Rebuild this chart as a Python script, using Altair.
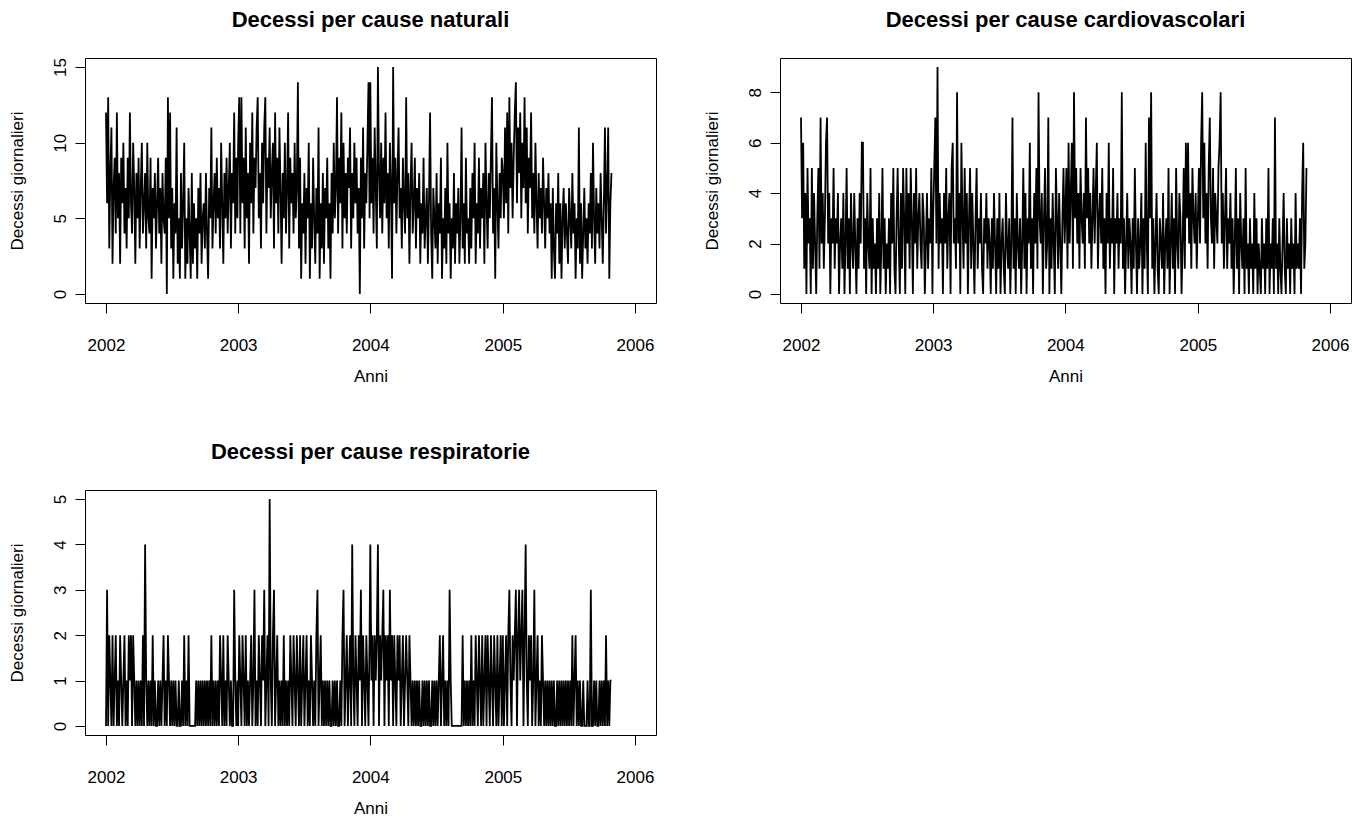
import altair as alt
import pandas as pd

FONT = "Liberation Sans"

nat_2002 = [12, 6, 13, 3, 8, 11, 2, 7, 9, 4, 12, 5, 8, 2, 9, 6, 10, 4, 7, 3,
            9, 5, 12, 6, 4, 10, 7, 2, 8, 5, 9, 3, 7, 10, 4, 6, 8, 3, 10, 5,
            4, 9, 1, 7, 5, 8, 3, 6, 9, 4, 7, 2, 8, 5, 4, 9, 0, 13, 5, 12,
            3, 7, 1, 6, 4, 11, 2, 5, 1, 8, 3, 6, 10, 1, 5, 2, 7, 4, 1, 8,
            2, 6, 3, 5, 1, 7, 4, 8, 2, 5, 6, 3, 8, 4, 1, 7, 5, 11, 3, 6,
            8, 4, 9, 5, 7, 3, 10, 6, 2, 8, 5, 9, 4, 7, 10, 3, 8, 6, 12, 4, 9, 5]
nat_2003 = [10, 13, 4, 13, 6, 9, 3, 11, 5, 8, 2, 10, 6, 12, 4, 9, 7, 11, 13, 5,
            8, 3, 10, 6, 11, 13, 4, 9, 7, 11, 5, 8, 10, 3, 12, 6, 9, 4, 11, 7,
            2, 8, 5, 10, 4, 7, 12, 3, 9, 6, 8, 4, 10, 5, 7, 14, 3, 9, 1, 6,
            4, 8, 2, 7, 5, 10, 1, 6, 3, 9, 5, 2, 7, 4, 11, 1, 6, 3, 8, 2,
            7, 5, 9, 3, 6, 1, 8, 4, 10, 5, 7, 13, 4, 9, 6, 12, 3, 10, 5, 8,
            4, 9, 7, 11, 3, 8, 5, 10, 6, 9, 4, 7, 0, 9, 5, 11, 3, 8, 6, 10, 14, 5]
nat_2004 = [14, 6, 9, 4, 11, 7, 3, 15, 8, 5, 10, 4, 9, 6, 12, 5, 8, 3, 10, 7,
            1, 15, 6, 9, 4, 8, 11, 5, 7, 3, 9, 6, 4, 13, 5, 8, 2, 7, 10, 4,
            6, 9, 3, 7, 5, 8, 2, 6, 4, 9, 3, 5, 7, 2, 6, 12, 4, 1, 7, 5,
            3, 8, 2, 6, 4, 9, 1, 5, 3, 7, 2, 10, 4, 6, 1, 5, 3, 8, 2, 6,
            4, 7, 2, 5, 11, 3, 6, 2, 9, 4, 5, 2, 7, 3, 8, 5, 10, 2, 6, 4,
            9, 3, 7, 5, 8, 2, 10, 6, 3, 8, 5, 9, 13, 4, 7, 1, 10, 6, 3, 8, 5, 9]
nat_2005 = [8, 5, 11, 6, 12, 4, 13, 7, 10, 5, 9, 12, 14, 6, 11, 8, 12, 5, 10, 7,
            13, 6, 11, 4, 9, 7, 12, 5, 8, 4, 10, 6, 3, 8, 5, 7, 4, 9, 6, 3,
            7, 5, 8, 4, 6, 1, 7, 3, 1, 6, 4, 8, 2, 6, 1, 5, 7, 3, 6, 4,
            2, 7, 5, 3, 8, 4, 6, 1, 5, 3, 11, 2, 6, 1, 4, 7, 3, 5, 2, 6,
            4, 8, 3, 10, 5, 2, 7, 4, 6, 3, 8, 5, 2, 6, 11, 4, 7, 11, 1, 6, 8]

card_2002 = [7, 3, 6, 1, 4, 0, 5, 2, 3, 0, 5, 1, 4, 2, 0, 3, 5, 1, 7, 2,
             4, 1, 3, 6, 7, 2, 4, 0, 3, 2, 5, 1, 3, 2, 4, 0, 2, 3, 1, 4,
             0, 2, 5, 1, 3, 0, 4, 2, 1, 4, 2, 0, 3, 1, 4, 2, 6, 6, 1, 3,
             0, 4, 2, 1, 5, 0, 3, 1, 2, 0, 3, 1, 4, 0, 2, 5, 1, 3, 0, 2,
             1, 3, 0, 4, 2, 5, 1, 0, 3, 5, 2, 0, 4, 1, 5, 3, 0, 5, 2, 4,
             1, 5, 3, 0, 4, 2, 5, 1, 3, 4, 2, 1, 4, 3, 0, 2, 4, 1, 3, 2, 5, 0]
card_2003 = [3, 5, 7, 2, 9, 1, 4, 2, 3, 0, 4, 2, 5, 1, 3, 4, 0, 5, 6, 2,
             3, 1, 8, 2, 4, 0, 6, 3, 1, 5, 2, 4, 0, 3, 5, 1, 4, 2, 0, 3,
             5, 1, 3, 2, 4, 1, 0, 3, 2, 4, 1, 3, 2, 0, 3, 1, 4, 2, 0, 3,
             1, 4, 0, 2, 3, 1, 0, 4, 2, 1, 3, 0, 2, 7, 1, 3, 0, 4, 2, 1,
             3, 0, 2, 5, 1, 4, 0, 3, 2, 6, 1, 3, 0, 4, 2, 5, 1, 8, 3, 2,
             4, 0, 3, 5, 1, 2, 7, 0, 3, 1, 4, 2, 0, 5, 3, 1, 4, 2, 0, 3, 5, 2]
card_2004 = [3, 5, 1, 6, 2, 4, 6, 1, 8, 3, 5, 2, 4, 1, 5, 3, 2, 4, 1, 7,
             3, 5, 2, 4, 1, 3, 5, 2, 4, 6, 1, 3, 4, 2, 5, 1, 3, 0, 4, 2,
             6, 1, 3, 2, 5, 0, 3, 2, 4, 1, 3, 2, 8, 1, 3, 0, 2, 4, 1, 3,
             2, 0, 3, 1, 5, 2, 0, 3, 1, 2, 4, 0, 3, 1, 6, 2, 0, 7, 3, 8,
             1, 3, 0, 2, 4, 1, 0, 3, 2, 1, 4, 0, 2, 3, 1, 5, 0, 2, 4, 1,
             3, 0, 5, 2, 1, 4, 3, 0, 2, 5, 1, 6, 3, 6, 2, 4, 1, 5, 3, 2, 4, 1]
card_2005 = [3, 5, 2, 6, 8, 3, 6, 2, 4, 1, 5, 7, 3, 2, 5, 1, 4, 3, 2, 5,
             6, 8, 2, 4, 1, 3, 5, 1, 3, 2, 4, 1, 3, 0, 2, 5, 1, 3, 0, 4,
             2, 1, 3, 0, 5, 1, 2, 0, 3, 1, 2, 0, 4, 1, 3, 0, 2, 1, 0, 3,
             1, 2, 0, 3, 1, 5, 0, 2, 1, 3, 0, 7, 1, 2, 0, 3, 1, 0, 2, 4,
             1, 0, 3, 1, 2, 0, 3, 1, 2, 0, 4, 1, 2, 1, 3, 0, 4, 6, 1, 2, 5]

resp_2002 = [0, 3, 0, 2, 1, 0, 2, 0, 1, 2, 0, 1, 0, 2, 1, 0, 1, 2, 0, 1,
             0, 2, 1, 2, 0, 2, 1, 0, 1, 0, 1, 0, 1, 0, 2, 0, 4, 1, 0, 1,
             0, 1, 0, 2, 0, 1, 0, 0, 1, 0, 1, 0, 1, 2, 0, 1, 0, 2, 1, 0,
             1, 0, 1, 0, 1, 0, 0, 1, 0, 0, 1, 0, 2, 0, 1, 0, 2, 0, 0, 0,
             0, 0, 0, 1, 0, 1, 0, 1, 0, 1, 0, 1, 0, 1, 0, 1, 0, 2, 0, 1,
             0, 1, 0, 1, 0, 2, 1, 0, 2, 0, 1, 0, 2, 1, 0, 1, 0, 0, 3, 1, 0, 1]
resp_2003 = [0, 2, 1, 0, 2, 1, 0, 2, 0, 1, 0, 1, 2, 0, 1, 3, 0, 1, 0, 2,
             1, 0, 2, 1, 3, 0, 1, 2, 0, 5, 1, 0, 2, 3, 0, 1, 2, 0, 1, 0,
             1, 0, 2, 0, 1, 0, 1, 0, 2, 1, 0, 2, 1, 0, 2, 1, 0, 2, 0, 1,
             2, 0, 1, 2, 0, 1, 0, 2, 1, 0, 1, 0, 2, 3, 0, 1, 2, 0, 1, 0,
             1, 0, 1, 0, 1, 0, 0, 1, 0, 1, 0, 1, 0, 0, 1, 0, 2, 3, 0, 1,
             2, 0, 1, 2, 0, 4, 1, 0, 2, 1, 0, 2, 1, 3, 0, 2, 1, 0, 2, 1, 0, 2]
resp_2004 = [4, 1, 2, 0, 2, 1, 2, 4, 0, 2, 1, 2, 3, 0, 2, 1, 2, 0, 3, 1,
             2, 0, 2, 1, 0, 2, 1, 2, 0, 1, 2, 0, 1, 2, 1, 0, 2, 1, 0, 1,
             0, 1, 0, 1, 0, 1, 0, 0, 1, 0, 1, 0, 1, 0, 1, 0, 0, 1, 0, 1,
             0, 1, 0, 1, 2, 0, 1, 2, 0, 1, 0, 1, 0, 3, 1, 0, 0, 0, 0, 0,
             0, 0, 0, 0, 0, 2, 0, 1, 0, 1, 0, 1, 0, 2, 0, 1, 0, 2, 1, 0,
             2, 1, 0, 2, 0, 1, 2, 0, 2, 1, 0, 2, 1, 0, 2, 1, 0, 2, 0, 1, 2, 0]
resp_2005 = [2, 0, 1, 2, 0, 2, 3, 1, 0, 2, 1, 2, 3, 0, 2, 3, 1, 2, 3, 0,
             2, 4, 1, 0, 2, 1, 2, 0, 1, 3, 0, 1, 2, 0, 1, 0, 2, 1, 0, 1,
             0, 1, 0, 1, 0, 1, 0, 1, 0, 0, 1, 0, 1, 0, 1, 0, 1, 0, 1, 0,
             1, 0, 1, 0, 2, 0, 1, 2, 0, 1, 0, 1, 0, 0, 1, 0, 0, 0, 1, 0,
             0, 3, 0, 0, 1, 0, 1, 0, 0, 1, 0, 1, 0, 1, 0, 2, 0, 1, 0, 1, 1]

titles = ["Decessi per cause naturali", "Decessi per cause cardiovascolari",
          "Decessi per cause respiratorie"]
x_title = "Anni"
y_title = "Decessi giornalieri"
year_ticks = [2002, 2003, 2004, 2005, 2006]


def build_frame(per_year):
    parts = []
    for year, vals in per_year:
        dates = pd.date_range(f"{year}-01-01", periods=len(vals), freq="3D")
        parts.append(pd.DataFrame({"data": dates, "decessi": vals}))
    return pd.concat(parts, ignore_index=True)


df_nat = build_frame([(2002, nat_2002), (2003, nat_2003), (2004, nat_2004), (2005, nat_2005)])
df_card = build_frame([(2002, card_2002), (2003, card_2003), (2004, card_2004), (2005, card_2005)])
df_resp = build_frame([(2002, resp_2002), (2003, resp_2003), (2004, resp_2004), (2005, resp_2005)])

W, H = 571, 245


def panel(df, title, ydomain, yticks):
    x_axis = alt.Axis(
        values=[alt.DateTime(year=y, month=1, date=1) for y in year_ticks],
        format="%Y", title=x_title, domain=False, grid=False,
        tickSize=10, tickColor="black", tickWidth=1,
        labelFont=FONT, labelFontSize=17, labelColor="black",
        labelPadding=24, labelFlush=False, labelOverlap=False,
        titleFont=FONT, titleFontSize=17, titleFontWeight="normal",
        titleColor="black", titleY=78, titleBaseline="alphabetic",
    )
    y_axis = alt.Axis(
        values=yticks, title=y_title, domain=False, grid=False,
        tickSize=10, tickColor="black", tickWidth=1,
        labelFont=FONT, labelFontSize=17, labelColor="black",
        labelAngle=270, labelAlign="center", labelBaseline="alphabetic",
        labelPadding=10, labelFlush=False, labelOverlap=False,
        titleFont=FONT, titleFontSize=17, titleFontWeight="normal",
        titleColor="black", titleAngle=270, titleAlign="center",
        titleBaseline="alphabetic", titleX=-63, titleY=H / 2,
    )
    return alt.Chart(df).mark_line(color="black", strokeWidth=1.8).encode(
        x=alt.X("data:T", axis=x_axis,
                scale=alt.Scale(domain=[alt.DateTime(year=2001, month=11, date=4),
                                        alt.DateTime(year=2006, month=2, date=28)])),
        y=alt.Y("decessi:Q", axis=y_axis,
                scale=alt.Scale(domain=ydomain, nice=False, zero=False)),
    ).properties(
        width=W, height=H,
        title=alt.TitleParams(title, font=FONT, fontSize=22, fontWeight="bold",
                              color="black", anchor="middle", frame="group",
                              offset=9, baseline="alphabetic"),
    )


p1 = panel(df_nat, titles[0], [-0.6, 15.6], [0, 5, 10, 15])
p2 = panel(df_card, titles[1], [-0.36, 9.36], [0, 2, 4, 6, 8])
p3 = panel(df_resp, titles[2], [-0.2, 5.2], [0, 1, 2, 3, 4, 5])

chart = alt.concat(p1, p2, p3, columns=2, bounds="flush",
                   spacing={"row": 187, "column": 124}).properties(
    padding={"left": 7, "top": 8, "right": 5, "bottom": 0},
    background="white",
).configure_view(stroke="black", strokeWidth=1, fill="white")

chart.save("out.html", embed_options={"renderer": "svg", "actions": False})
